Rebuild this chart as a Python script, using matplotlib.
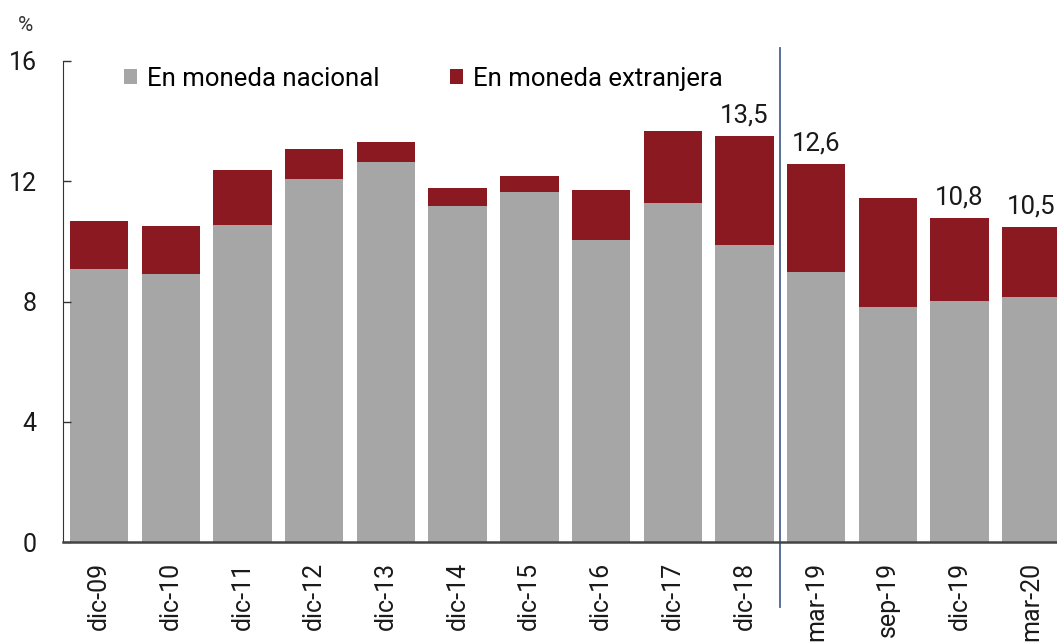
import matplotlib.pyplot as plt
import numpy as np

plt.rcParams['font.family'] = ['Roboto', 'DejaVu Sans']

# Datos (% )
periodos = ["dic-09", "dic-10", "dic-11", "dic-12", "dic-13", "dic-14", "dic-15",
            "dic-16", "dic-17", "dic-18", "mar-19", "sep-19", "dic-19", "mar-20"]
nacional = [9.09, 8.92, 10.56, 12.07, 12.63, 11.17, 11.63,
            10.06, 11.27, 9.89, 9.00, 7.81, 8.02, 8.14]
extranjera = [1.59, 1.58, 1.80, 1.00, 0.69, 0.62, 0.54,
              1.64, 2.40, 3.61, 3.58, 3.63, 2.75, 2.34]
etiquetas = {9: "13,5", 10: "12,6", 12: "10,8", 13: "10,5"}

gris = "#a6a6a6"
rojo = "#8b1922"

fig = plt.figure(figsize=(10.57, 6.42), dpi=100)
ax = fig.add_axes([0.0599, 0.1553, 0.9401, 0.7497])

x = np.arange(len(periodos))
total = np.array(nacional) + np.array(extranjera)
ax.bar(x, nacional, width=0.815, color=gris, label="En moneda nacional")
ax.bar(x, extranjera, width=0.815, bottom=nacional, color=rojo, label="En moneda extranjera")

for i, txt in etiquetas.items():
    ax.annotate(txt, (x[i], total[i]), xytext=(0, 6), textcoords="offset points",
                ha="center", va="bottom", fontsize=18.5, color="#1a1a1a")

# línea vertical separando datos anuales de trimestrales
ax.axvline(9.5, ymin=-0.134, ymax=1.027, color="#4d6290", lw=1.3, clip_on=False)

ax.set_xlim(-0.5, 13.36)
ax.set_ylim(0, 16)
ax.set_yticks([0, 4, 8, 12, 16])
ax.set_xticks(x)
ax.set_xticklabels(periodos, rotation=90, fontsize=18, color="#1a1a1a")
ax.tick_params(axis="x", length=0, pad=14)
ax.tick_params(axis="y", direction="in", length=6, width=1, pad=19,
               labelsize=18, labelcolor="#1a1a1a", color="#333333")

for s in ["top", "right"]:
    ax.spines[s].set_visible(False)
ax.spines["left"].set_color("#333333")
ax.spines["bottom"].set_color("#444444")
ax.spines["bottom"].set_linewidth(1.8)

fig.text(0.024, 0.961, "%", fontsize=15, ha="center", va="center", color="#333333")

ax.legend(loc="upper left", bbox_to_anchor=(0.048, 1.015), ncol=2, frameon=False,
          fontsize=18.5, handlelength=0.5, handleheight=0.5, handletextpad=0.4,
          columnspacing=2.75, borderpad=0)

fig.savefig("out.png", dpi=100)
